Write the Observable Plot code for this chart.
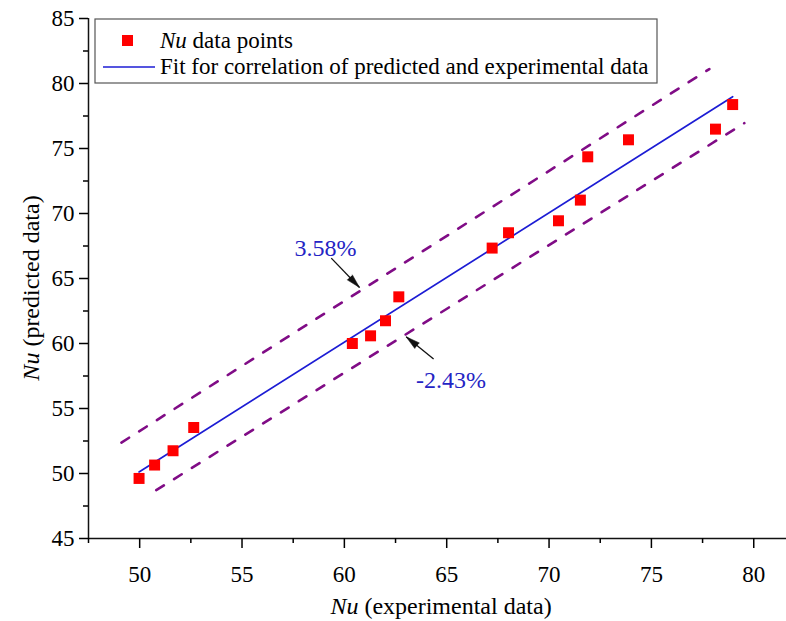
<!DOCTYPE html>
<html>
<head>
<meta charset="utf-8">
<script src="https://cdn.jsdelivr.net/npm/d3@7"></script>
<script src="https://cdn.jsdelivr.net/npm/@observablehq/plot@0.6"></script>
<style>
  html, body { margin: 0; padding: 0; background: #fff; }
  #chart svg { display: block; }
  #chart svg, #chart svg text { font-family: 'Liberation Serif', 'Times New Roman', serif !important; }
</style>
</head>
<body>
<div id="chart"></div>
<script>
// Nusselt number: experimental vs predicted
const nuExperimental = [49.97, 50.73, 51.63, 52.64, 60.39, 61.28, 62.01, 62.66, 67.22, 68.02, 70.46, 71.53, 71.89, 73.88, 78.13, 78.97];
const nuPredicted    = [49.62, 50.65, 51.75, 53.54, 60.00, 60.59, 61.75, 63.59, 67.34, 68.52, 69.44, 71.03, 74.36, 75.67, 76.49, 78.38];

// deviation bounds (dashed)
const upperBoundX = [49.11, 77.83];
const upperBoundY = [52.38, 81.11];
const lowerBoundX = [50.81, 79.54];
const lowerBoundY = [48.72, 76.95];

// deviation annotations
const noteLabels = ["3.58%", "-2.43%"];
const noteX = [57.57, 63.5];
const noteY = [67.36, 57.13];
const arrowFromX = [59.36, 64.36];
const arrowFromY = [66.57, 58.80];
const arrowToX = [60.74, 63.02];
const arrowToY = [64.31, 60.51];

// axis ticks
const xMajorTicks = [50, 55, 60, 65, 70, 75, 80];
const xMinorTicks = [47.5, 52.5, 57.5, 62.5, 67.5, 72.5, 77.5];
const yMajorTicks = [45, 50, 55, 60, 65, 70, 75, 80, 85];
const yMinorTicks = [47.5, 52.5, 57.5, 62.5, 67.5, 72.5, 77.5, 82.5];

const legendLabels = ["data points", "Fit for correlation of predicted and experimental data"];

const width = 786, height = 621;
const marginLeft = 88, marginRight = 0, marginTop = 18, marginBottom = 83;
const xDomain = [47.5, 81.6];
const yDomain = [45, 85];

const points = nuExperimental.map((x, i) => ({x, y: nuPredicted[i]}));
const upper = upperBoundX.map((x, i) => ({x, y: upperBoundY[i]}));
const lower = lowerBoundX.map((x, i) => ({x, y: lowerBoundY[i]}));
const notes = noteLabels.map((t, i) => ({text: t, x: noteX[i], y: noteY[i]}));

// pixels per data unit, to aim the arrow heads along their shafts
const kx = (width - marginLeft - marginRight) / (xDomain[1] - xDomain[0]);
const ky = (height - marginTop - marginBottom) / (yDomain[1] - yDomain[0]);
const arrows = arrowFromX.map((x1, i) => {
  const x2 = arrowToX[i], y1 = arrowFromY[i], y2 = arrowToY[i];
  const angle = Math.atan2((x2 - x1) * kx, (y2 - y1) * ky) * 180 / Math.PI;
  return {x1, y1, x2, y2, angle};
});

const purple = "#800c86";
const blue = "#1c1cd4";
const noteBlue = "#2424c4";
const fontFamily = "'Liberation Serif', 'Times New Roman', serif";

const plot = Plot.plot({
  width, height, marginLeft, marginRight, marginTop, marginBottom,
  style: {fontFamily, background: "#fff", color: "#000", overflow: "visible"},
  x: {domain: xDomain, axis: null},
  y: {domain: yDomain, axis: null},
  marks: [
    // axes
    Plot.ruleY([45], {stroke: "#111", strokeWidth: 1.5}),
    Plot.ruleX([47.5], {y1: 45, y2: 85, stroke: "#111", strokeWidth: 1.5}),
    Plot.axisX(xMajorTicks, {tickSize: 10, tickPadding: 17, fontSize: 23, fontFamily, label: null, strokeWidth: 1.5}),
    Plot.axisX(xMinorTicks, {tickSize: 5, tickFormat: () => "", label: null, strokeWidth: 1.5}),
    Plot.axisY(yMajorTicks, {tickSize: 9, tickPadding: 5, fontSize: 23, fontFamily, label: null, strokeWidth: 1.5}),
    Plot.axisY(yMinorTicks, {tickSize: 5, tickFormat: () => "", label: null, strokeWidth: 1.5}),

    // deviation bounds
    Plot.line(upper, {x: "x", y: "y", stroke: purple, strokeWidth: 2.6, strokeDasharray: "9,12"}),
    Plot.line(lower, {x: "x", y: "y", stroke: purple, strokeWidth: 2.6, strokeDasharray: "9,12"}),

    // least-squares fit of predicted vs experimental
    Plot.linearRegressionY(points, {x: "x", y: "y", stroke: blue, strokeWidth: 1.7, ci: 0}),

    // data points
    Plot.dot(points, {x: "x", y: "y", symbol: "square", r: 6.2, fill: "#ff0000", stroke: "none"}),

    // annotation arrows
    Plot.link(arrows, {x1: "x1", y1: "y1", x2: "x2", y2: "y2", stroke: "#111", strokeWidth: 1.3}),
    Plot.vector(arrows, {x: "x2", y: "y2", rotate: "angle", length: 14, r: 3.6, shape: "spike", anchor: "end", fill: "#111", stroke: "#111", strokeWidth: 0.5}),
    Plot.text(notes, {x: "x", y: "y", text: "text", fill: noteBlue, fontSize: 24, fontFamily, textAnchor: "start", lineAnchor: "middle"})
  ]
});

document.getElementById("chart").appendChild(plot);

// axis titles and legend, with the italic symbol Nu
const svg = d3.select(plot);
const xMid = (marginLeft + width - marginRight) / 2 + 4;

const xTitle = svg.append("text")
  .attr("x", xMid).attr("y", 614)
  .attr("text-anchor", "middle")
  .attr("font-size", 24).attr("fill", "#000");
xTitle.append("tspan").attr("font-style", "italic").text("Nu");
xTitle.append("tspan").text(" (experimental data)");

const yTitle = svg.append("text")
  .attr("transform", `translate(39, ${(marginTop + height - marginBottom) / 2 + 10}) rotate(-90)`)
  .attr("text-anchor", "middle")
  .attr("font-size", 24).attr("fill", "#000");
yTitle.append("tspan").attr("font-style", "italic").text("Nu");
yTitle.append("tspan").text(" (predicted data)");

const legend = svg.append("g")
  .attr("transform", `translate(${marginLeft + 7}, ${marginTop + 1})`)
  .attr("text-anchor", "start");
legend.append("rect")
  .attr("x", 0).attr("y", 0).attr("width", 562).attr("height", 64)
  .attr("fill", "#fff").attr("stroke", "#555").attr("stroke-width", 1.2);
legend.append("rect")
  .attr("x", 27).attr("y", 16).attr("width", 11).attr("height", 11)
  .attr("fill", "#ff0000");
const row1 = legend.append("text")
  .attr("x", 65).attr("y", 29).attr("font-size", 23).attr("fill", "#000")
  .attr("text-anchor", "start");
row1.append("tspan").attr("font-style", "italic").text("Nu");
row1.append("tspan").text(" " + legendLabels[0]);
legend.append("line")
  .attr("x1", 8).attr("x2", 60).attr("y1", 48).attr("y2", 48)
  .attr("stroke", blue).attr("stroke-width", 1.7);
legend.append("text")
  .attr("x", 65).attr("y", 55).attr("font-size", 23).attr("fill", "#000")
  .attr("text-anchor", "start")
  .text(legendLabels[1]);
</script>
</body>
</html>
